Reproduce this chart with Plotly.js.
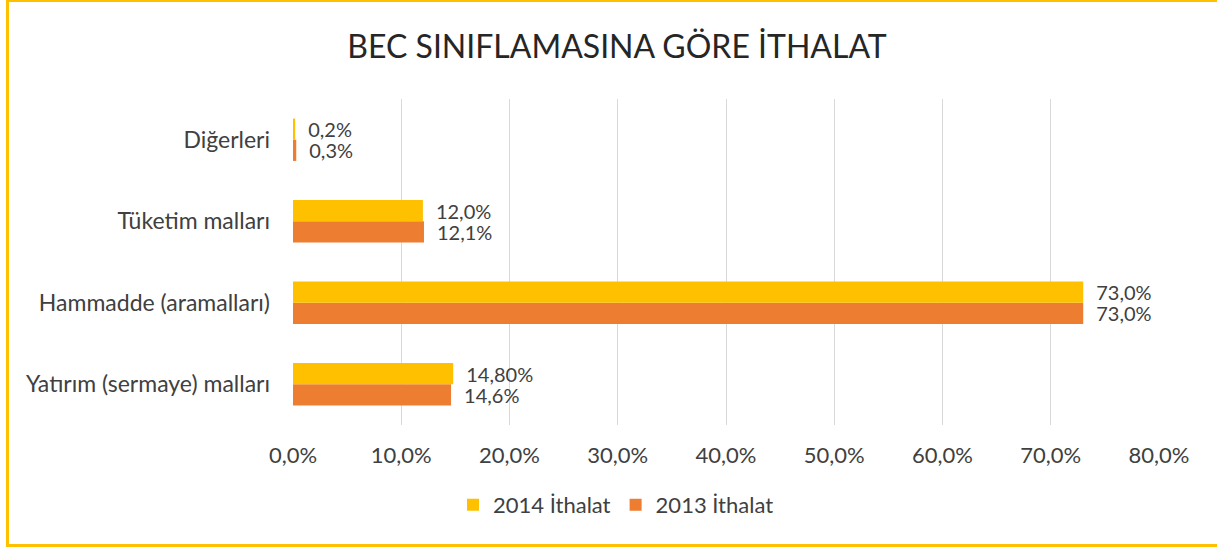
<!DOCTYPE html>
<html>
<head>
<meta charset="utf-8">
<script src="https://cdn.plot.ly/plotly-3.0.1.min.js"></script>
<style>
  html, body { margin: 0; padding: 0; background: #fff; overflow: hidden; width: 1217px; height: 547px; }
  #chart { position: absolute; left: 0; top: 0; width: 1217px; height: 547px; }
  .fr { position: absolute; background: #FFC000; pointer-events: none; }
  #frTop { left: 6px; top: 0px; width: 1211px; height: 2px; }
  #frLeft { left: 6px; top: 0px; width: 3px; height: 547px; }
  #frBottom { left: 6px; top: 544px; width: 1211px; height: 3px; }
</style>
</head>
<body>
<div id="chart"></div>
<div class="fr" id="frTop"></div>
<div class="fr" id="frLeft"></div>
<div class="fr" id="frBottom"></div>
<script>
const categories = ["Yatırım (sermaye) malları", "Hammadde (aramalları)", "Tüketim malları", "Diğerleri"];
const values2014 = [14.8, 73.0, 12.0, 0.2];
const values2013 = [14.6, 73.0, 12.1, 0.3];
const labels2014 = ["14,80%", "73,0%", "12,0%", "0,2%"];
const labels2013 = ["14,6%", "73,0%", "12,1%", "0,3%"];
const tickVals = [0, 10, 20, 30, 40, 50, 60, 70, 80];
const tickText = ["0,0%", "10,0%", "20,0%", "30,0%", "40,0%", "50,0%", "60,0%", "70,0%", "80,0%"];

const font = "Lato, Open Sans, sans-serif";
const textColor = "#404040";

const traces = [
  {
    type: "bar", orientation: "h", name: "2013 İthalat",
    y: categories, x: values2013, text: labels2013,
    texttemplate: "\u2002%{text}",
    textposition: "outside", cliponaxis: false, constraintext: "none",
    textfont: { family: font, size: 20, color: textColor },
    marker: { color: "#ED7D31" }, hoverinfo: "skip"
  },
  {
    type: "bar", orientation: "h", name: "2014 İthalat",
    y: categories, x: values2014, text: labels2014,
    texttemplate: "\u2002%{text}",
    textposition: "outside", cliponaxis: false, constraintext: "none",
    textfont: { family: font, size: 20, color: textColor },
    marker: { color: "#FFC000" }, hoverinfo: "skip"
  }
];

const layout = {
  width: 1217, height: 547,
  paper_bgcolor: "#ffffff", plot_bgcolor: "#ffffff",
  margin: { l: 293, r: 58, t: 99, b: 122, pad: 0 },
  font: { family: font, color: textColor, size: 22 },
  title: { text: "BEC SINIFLAMASINA GÖRE İTHALAT", x: 0.507, xanchor: "center", y: 0.915, yanchor: "middle",
           font: { family: font, size: 32, color: "#262626" } },
  barmode: "group", bargap: 0.48, bargroupgap: 0,
  xaxis: {
    range: [0, 80], tickvals: tickVals, ticktext: tickText,
    showgrid: true, gridcolor: "#D9D9D9", gridwidth: 1,
    zeroline: false, showline: false, ticks: "",
    tickfont: { family: font, size: 22, color: textColor },
    ticklabelstandoff: 15, fixedrange: true
  },
  yaxis: {
    categoryorder: "array", categoryarray: categories,
    showgrid: false, zeroline: false, showline: false, ticks: "",
    tickfont: { family: font, size: 23, color: textColor },
    ticklabelstandoff: 22, fixedrange: true
  },
  showlegend: true,
  legend: { orientation: "h", x: 0.373, xanchor: "center", y: -0.245, yanchor: "middle",
            traceorder: "reversed", font: { family: font, size: 22, color: textColor } }
};

Plotly.newPlot("chart", traces, layout, { displayModeBar: false, staticPlot: true });
</script>
</body>
</html>
